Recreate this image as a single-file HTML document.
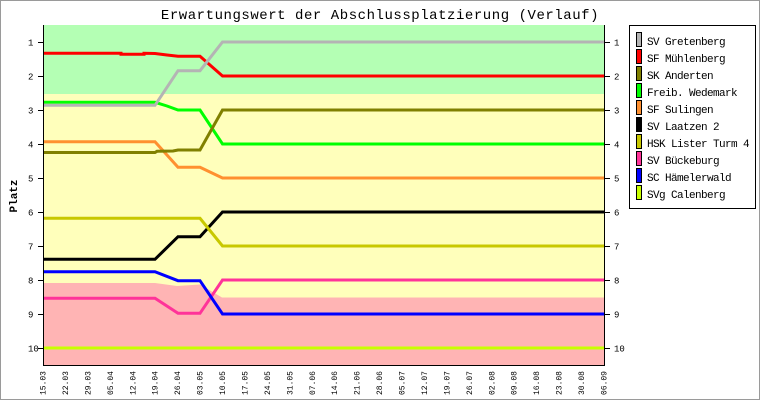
<!DOCTYPE html>
<html><head><meta charset="utf-8"><style>
html,body{margin:0;padding:0;background:#fff;}
svg{display:block;}
text{font-family:"Liberation Mono","DejaVu Sans Mono",monospace;fill:#000;}
</style></head><body>
<svg width="760" height="400" viewBox="0 0 760 400" xmlns="http://www.w3.org/2000/svg">
<rect x="0.5" y="0.5" width="759" height="399" fill="#fff" stroke="#9a9a9a" stroke-width="1"/>
<text x="380" y="19" font-size="14" text-anchor="middle" letter-spacing="0.54">Erwartungswert der Abschlussplatzierung (Verlauf)</text>
<!-- plot backgrounds -->
<rect x="43" y="25" width="561" height="340" fill="#ffffbb"/>
<rect x="43" y="25" width="561" height="69" fill="#b4ffb4"/>
<polygon points="43,283 155,283 177,286 200,284.5 222,297.5 604,297.5 604,365 43,365" fill="#ffb4b4"/>
<!-- series -->
<g fill="none" stroke-width="3" stroke-linejoin="miter">
<polyline stroke="#c8ff00" points="43,348 604,348"/>
<polyline stroke="#ff3399" points="43,298.3 155,298.3 178,313.3 200,313.3 222.5,280 604,280"/>
<polyline stroke="#0000ff" points="43,271.7 155,271.7 178,280.7 200,280.7 222.5,314 604,314"/>
<polyline stroke="#000000" points="43,259.3 155,259.3 178,236.7 200,236.7 222.5,212 604,212"/>
<polyline stroke="#c8c800" points="43,218.3 200,218.3 222.5,246 604,246"/>
<polyline stroke="#ff9030" points="43,141.7 155,141.7 178,167.3 200,167.3 222.5,178 604,178"/>
<polyline stroke="#00ff00" points="43,102.3 155,102.3 167,106 178,110 200,110 222.5,144 604,144"/>
<polyline stroke="#808000" points="43,152.5 155,152.5 157,151.3 173,151 178,150 200,150 222.5,110 604,110"/>
<polyline stroke="#ff0000" points="43,53.3 121,53.3 121,54.3 144,54.3 144,53.3 155,53.5 167,55 178,56.3 200,56.3 222.5,76 604,76"/>
<polyline stroke="#b4b4b4" points="43,105.3 155,105.3 178,70.7 200,70.7 222.5,42 604,42"/>
</g>
<!-- axes -->
<g stroke="#000" stroke-width="1" shape-rendering="crispEdges">
<line x1="43.5" y1="25" x2="43.5" y2="365"/>
<line x1="604.5" y1="25" x2="604.5" y2="365"/>
<line x1="43" y1="365.5" x2="605" y2="365.5"/>
<line x1="38" y1="42.5" x2="43" y2="42.5"/><line x1="605" y1="42.5" x2="610" y2="42.5"/>
<line x1="38" y1="76.5" x2="43" y2="76.5"/><line x1="605" y1="76.5" x2="610" y2="76.5"/>
<line x1="38" y1="110.5" x2="43" y2="110.5"/><line x1="605" y1="110.5" x2="610" y2="110.5"/>
<line x1="38" y1="144.5" x2="43" y2="144.5"/><line x1="605" y1="144.5" x2="610" y2="144.5"/>
<line x1="38" y1="178.5" x2="43" y2="178.5"/><line x1="605" y1="178.5" x2="610" y2="178.5"/>
<line x1="38" y1="212.5" x2="43" y2="212.5"/><line x1="605" y1="212.5" x2="610" y2="212.5"/>
<line x1="38" y1="246.5" x2="43" y2="246.5"/><line x1="605" y1="246.5" x2="610" y2="246.5"/>
<line x1="38" y1="280.5" x2="43" y2="280.5"/><line x1="605" y1="280.5" x2="610" y2="280.5"/>
<line x1="38" y1="314.5" x2="43" y2="314.5"/><line x1="605" y1="314.5" x2="610" y2="314.5"/>
<line x1="38" y1="348.5" x2="43" y2="348.5"/><line x1="605" y1="348.5" x2="610" y2="348.5"/>
</g>
<g font-size="9">
<text x="28" y="45.5">1</text><text x="614" y="45.5">1</text>
<text x="28" y="79.5">2</text><text x="614" y="79.5">2</text>
<text x="28" y="113.5">3</text><text x="614" y="113.5">3</text>
<text x="28" y="147.5">4</text><text x="614" y="147.5">4</text>
<text x="28" y="181.5">5</text><text x="614" y="181.5">5</text>
<text x="28" y="215.5">6</text><text x="614" y="215.5">6</text>
<text x="28" y="249.5">7</text><text x="614" y="249.5">7</text>
<text x="28" y="283.5">8</text><text x="614" y="283.5">8</text>
<text x="28" y="317.5">9</text><text x="614" y="317.5">9</text>
<text x="28" y="351.5">10</text><text x="614" y="351.5">10</text>
</g>
<text transform="translate(17,196) rotate(-90)" font-size="11" font-weight="bold" text-anchor="middle">Platz</text>
<!-- x labels -->
<g font-size="8" text-anchor="end">
<text transform="translate(45.5,371) rotate(-90)">15.03</text>
<text transform="translate(67.9,371) rotate(-90)">22.03</text>
<text transform="translate(90.4,371) rotate(-90)">29.03</text>
<text transform="translate(112.8,371) rotate(-90)">05.04</text>
<text transform="translate(135.3,371) rotate(-90)">12.04</text>
<text transform="translate(157.7,371) rotate(-90)">19.04</text>
<text transform="translate(180.1,371) rotate(-90)">26.04</text>
<text transform="translate(202.6,371) rotate(-90)">03.05</text>
<text transform="translate(225.0,371) rotate(-90)">10.05</text>
<text transform="translate(247.5,371) rotate(-90)">17.05</text>
<text transform="translate(269.9,371) rotate(-90)">24.05</text>
<text transform="translate(292.3,371) rotate(-90)">31.05</text>
<text transform="translate(314.8,371) rotate(-90)">07.06</text>
<text transform="translate(337.2,371) rotate(-90)">14.06</text>
<text transform="translate(359.7,371) rotate(-90)">21.06</text>
<text transform="translate(382.1,371) rotate(-90)">28.06</text>
<text transform="translate(404.5,371) rotate(-90)">05.07</text>
<text transform="translate(427.0,371) rotate(-90)">12.07</text>
<text transform="translate(449.4,371) rotate(-90)">19.07</text>
<text transform="translate(471.9,371) rotate(-90)">26.07</text>
<text transform="translate(494.3,371) rotate(-90)">02.08</text>
<text transform="translate(516.7,371) rotate(-90)">09.08</text>
<text transform="translate(539.2,371) rotate(-90)">16.08</text>
<text transform="translate(561.6,371) rotate(-90)">23.08</text>
<text transform="translate(584.1,371) rotate(-90)">30.08</text>
<text transform="translate(606.5,371) rotate(-90)">06.09</text>
</g>
<!-- legend -->
<rect x="629.5" y="25.5" width="126" height="183" fill="#fff" stroke="#000" stroke-width="1"/>
<g stroke="#000" stroke-width="1" shape-rendering="crispEdges">
<rect x="636.5" y="32.5" width="5" height="14" fill="#b4b4b4"/>
<rect x="636.5" y="49.5" width="5" height="14" fill="#ff0000"/>
<rect x="636.5" y="66.5" width="5" height="14" fill="#808000"/>
<rect x="636.5" y="83.5" width="5" height="14" fill="#00ff00"/>
<rect x="636.5" y="100.5" width="5" height="14" fill="#ff9030"/>
<rect x="636.5" y="117.5" width="5" height="14" fill="#000000"/>
<rect x="636.5" y="134.5" width="5" height="14" fill="#c8c800"/>
<rect x="636.5" y="151.5" width="5" height="14" fill="#ff3399"/>
<rect x="636.5" y="168.5" width="5" height="14" fill="#0000ff"/>
<rect x="636.5" y="185.5" width="5" height="14" fill="#c8ff00"/>
</g>
<g font-size="11" letter-spacing="-0.6">
<text x="647" y="45">SV Gretenberg</text>
<text x="647" y="62">SF Mühlenberg</text>
<text x="647" y="79">SK Anderten</text>
<text x="647" y="96">Freib. Wedemark</text>
<text x="647" y="113">SF Sulingen</text>
<text x="647" y="130">SV Laatzen 2</text>
<text x="647" y="147">HSK Lister Turm 4</text>
<text x="647" y="164">SV Bückeburg</text>
<text x="647" y="181">SC Hämelerwald</text>
<text x="647" y="198">SVg Calenberg</text>
</g>
</svg>
</body></html>
